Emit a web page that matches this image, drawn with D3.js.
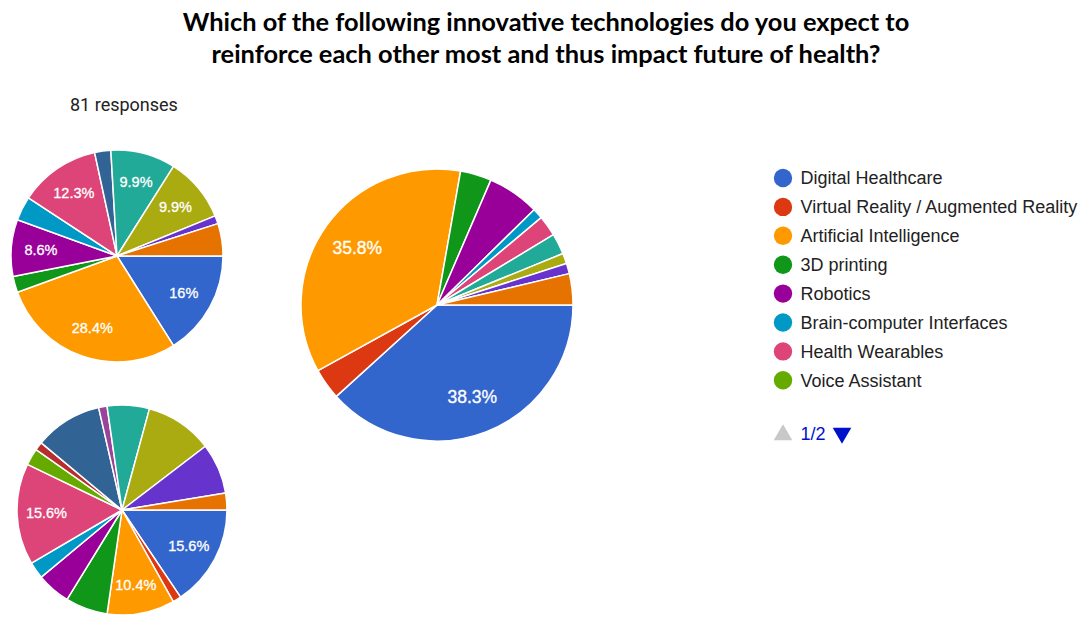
<!DOCTYPE html>
<html>
<head>
<meta charset="utf-8">
<script src="https://cdn.jsdelivr.net/npm/d3@7"></script>
<style>
  body { margin: 0; background: #fff; }
  svg { display: block; }
</style>
</head>
<body>
<svg id="chart" width="1084" height="623"></svg>
<script>
// legend names (page 1 of 2 of the legend)
var legendNames = ["Digital Healthcare", "Virtual Reality / Augmented Reality", "Artificial Intelligence",
                   "3D printing", "Robotics", "Brain-computer Interfaces", "Health Wearables", "Voice Assistant"];

// google charts default palette, one per answer option
var palette = ["#3366cc", "#dc3912", "#ff9900", "#109618", "#990099", "#0099c6", "#dd4477", "#66aa00",
               "#b82e2e", "#316395", "#994499", "#22aa99", "#aaaa11", "#6633cc", "#e67300"];

// response counts per option
var countsTop    = [13, 0, 23, 2, 7, 3, 10, 0, 0, 2, 0, 8, 8, 1, 4];
var countsBig    = [31, 3, 29, 3, 5, 1, 2, 0, 0, 0, 0, 2, 1, 1, 3];
var countsBottom = [12, 1, 8, 5, 4, 2, 12, 2, 1, 8, 1, 5, 8, 6, 2];

// which slices carry a percentage label in the picture
var labelsTop    = [0, 2, 4, 6, 11, 12];
var labelsBig    = [0, 2];
var labelsBottom = [0, 2, 6];

var titleLines = ["Which of the following innovative technologies do you expect to",
                  "reinforce each other most and thus impact future of health?"];
var responsesText = "81 responses";
var pageText = "1/2";

var svg = d3.select("#chart");

// title
svg.append("g").selectAll("text")
    .data(titleLines)
    .enter().append("text")
    .attr("x", 546)
    .attr("y", function(d, i){ return 31 + i * 32; })
    .attr("text-anchor", "middle")
    .attr("font-family", "Lato, 'Open Sans', sans-serif")
    .attr("font-weight", "bold")
    .attr("font-size", 25.4)
    .attr("fill", "#000")
    .text(function(d){ return d; });

svg.append("text")
    .attr("x", 70)
    .attr("y", 111)
    .attr("font-family", "Roboto, 'Liberation Sans', sans-serif")
    .attr("font-size", 18)
    .attr("fill", "#222")
    .text(responsesText);

var fmt = d3.format(".1~f");

function drawPie(counts, labels, cx, cy, r, fontSize){
    var total = d3.sum(counts);
    var pie = d3.pie().sort(null).value(function(d){ return d; })
        .startAngle(Math.PI / 2).endAngle(Math.PI / 2 + 2 * Math.PI);
    var arcs = pie(counts).map(function(a, i){ a.idx = i; return a; })
        .filter(function(a){ return a.value > 0; });
    var arc = d3.arc().innerRadius(0).outerRadius(r);
    var labelArc = d3.arc().innerRadius(r * 0.72).outerRadius(r * 0.72);

    var g = svg.append("g").attr("transform", "translate(" + cx + "," + cy + ")");
    g.selectAll("path")
        .data(arcs)
        .enter().append("path")
        .attr("d", arc)
        .attr("fill", function(d){ return palette[d.idx]; })
        .attr("stroke", "#fff")
        .attr("stroke-width", 1.5)
        .attr("stroke-linejoin", "round");

    g.selectAll("text")
        .data(arcs.filter(function(d){ return labels.indexOf(d.idx) >= 0; }))
        .enter().append("text")
        .attr("transform", function(d){ return "translate(" + labelArc.centroid(d) + ")"; })
        .attr("dy", "0.36em")
        .attr("text-anchor", "middle")
        .attr("font-family", "'Liberation Sans', Arial, sans-serif")
        .attr("font-size", fontSize)
        .attr("fill", "#fff")
        .attr("stroke", "#fff")
        .attr("stroke-width", 0.3)
        .text(function(d){ return fmt(d.value / total * 100) + "%"; });
}

drawPie(countsTop, labelsTop, 117, 256, 106, 14.5);
drawPie(countsBig, labelsBig, 437, 305, 136, 17.5);
drawPie(countsBottom, labelsBottom, 122, 510, 105, 14.5);

// legend
var legend = svg.append("g").attr("transform", "translate(783,178)");
var rows = legend.selectAll("g")
    .data(legendNames)
    .enter().append("g")
    .attr("transform", function(d, i){ return "translate(0," + (i * 28.9) + ")"; });
rows.append("circle")
    .attr("r", 9.2)
    .attr("fill", function(d, i){ return palette[i]; });
rows.append("text")
    .attr("x", 17.5)
    .attr("dy", "0.36em")
    .attr("font-family", "'Liberation Sans', Arial, sans-serif")
    .attr("font-size", 18)
    .attr("fill", "#222")
    .text(function(d){ return d; });

// legend paging
var nav = svg.append("g").attr("transform", "translate(783,434)");
nav.append("path")
    .attr("d", d3.symbol().type(d3.symbolTriangle).size(150)())
    .attr("transform", "translate(0,1)")
    .attr("fill", "#c8c8c8");
nav.append("text")
    .attr("x", 17.5)
    .attr("dy", "0.36em")
    .attr("font-family", "'Liberation Sans', Arial, sans-serif")
    .attr("font-size", 18)
    .attr("fill", "#0011cc")
    .text(pageText);
nav.append("path")
    .attr("d", d3.symbol().type(d3.symbolTriangle).size(150)())
    .attr("transform", "translate(59,-1) rotate(180)")
    .attr("fill", "#0011cc");
</script>
</body>
</html>
